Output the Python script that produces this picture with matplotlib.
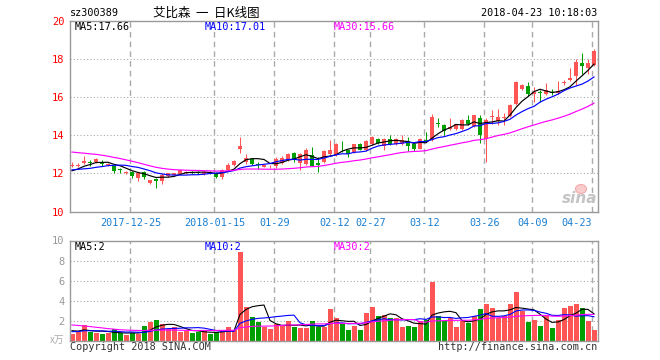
import matplotlib
matplotlib.use("Agg")
import matplotlib.pyplot as plt
import pandas as pd
from matplotlib.patches import Ellipse

# daily candles, 2017-12-11 .. 2018-04-23 (88 trading days)
open_ = [12.42, 12.40, 12.55, 12.58, 12.58, 12.55, 12.45, 12.37, 12.22, 12.02,
         12.07, 11.77, 12.10, 11.49, 11.72, 11.58, 11.85, 11.90, 11.98, 12.00,
         12.10, 12.07, 11.96, 12.10, 12.05, 11.82, 12.20, 12.45, 13.30, 12.60,
         12.76, 12.50, 12.35, 12.37, 12.38, 12.56, 12.70, 13.08, 12.56, 12.52,
         12.96, 12.55, 12.60, 13.00, 12.96, 13.42, 13.21, 13.12, 13.53, 13.21,
         13.53, 13.84, 13.47, 13.79, 13.53, 13.53, 13.70, 13.57, 13.31, 13.78,
         13.77, 14.68, 14.53, 14.35, 14.35, 14.32, 14.84, 14.49, 14.90, 13.84,
         14.95, 14.77, 14.94, 15.02, 15.65, 16.42, 16.60, 16.20, 16.27, 16.17,
         16.30, 16.25, 16.78, 16.90, 17.12, 17.82, 17.53, 17.70]
high = [12.58, 12.55, 12.90, 12.70, 12.80, 12.72, 12.55, 12.40, 12.30, 12.12,
        12.15, 12.05, 12.15, 11.68, 11.75, 12.00, 12.05, 12.05, 12.20, 12.15,
        12.15, 12.12, 12.12, 12.15, 12.10, 12.25, 12.55, 12.72, 13.92, 13.05,
        12.80, 12.60, 12.48, 12.47, 12.88, 12.90, 13.10, 13.15, 13.10, 13.35,
        13.40, 12.88, 13.25, 13.78, 13.62, 13.72, 13.25, 13.56, 13.58, 13.75,
        13.98, 13.88, 13.85, 14.00, 13.88, 14.00, 13.90, 13.60, 13.88, 14.16,
        15.14, 14.90, 14.60, 14.90, 14.62, 14.88, 15.07, 15.10, 15.07, 14.90,
        15.33, 15.37, 15.16, 15.65, 16.85, 16.70, 16.82, 16.55, 16.41, 16.77,
        16.46, 16.86, 16.91, 17.53, 18.05, 18.35, 18.05, 18.57]
low = [12.32, 12.36, 12.50, 12.42, 12.55, 12.37, 12.42, 12.05, 12.00, 11.98,
       11.75, 11.60, 11.70, 11.45, 11.23, 11.45, 11.80, 11.85, 11.95, 11.95,
       11.98, 11.98, 11.92, 11.97, 11.75, 11.72, 12.15, 12.40, 13.08, 12.50,
       12.45, 12.26, 12.32, 12.30, 12.27, 12.50, 12.68, 12.60, 12.20, 12.45,
       12.38, 12.07, 12.55, 12.95, 12.93, 13.14, 12.88, 13.08, 13.22, 13.17,
       13.50, 13.55, 13.25, 13.50, 13.50, 13.50, 13.20, 13.20, 13.28, 13.68,
       13.72, 14.45, 14.00, 14.30, 14.30, 14.28, 14.55, 14.45, 13.61, 12.61,
       14.60, 14.54, 14.54, 14.98, 15.60, 16.38, 16.10, 15.76, 15.76, 16.12,
       16.12, 16.20, 16.65, 16.85, 16.65, 17.26, 17.26, 17.65]
close = [12.47, 12.47, 12.66, 12.55, 12.74, 12.50, 12.50, 12.12, 12.18, 12.10,
         11.85, 12.02, 11.80, 11.65, 11.63, 11.93, 12.02, 12.00, 12.16, 12.10,
         12.02, 12.04, 12.07, 12.03, 11.80, 12.20, 12.47, 12.65, 13.47, 12.82,
         12.49, 12.47, 12.44, 12.42, 12.74, 12.84, 13.05, 12.73, 13.05, 13.26,
         12.42, 12.45, 13.20, 13.26, 13.57, 13.38, 13.00, 13.53, 13.26, 13.70,
         13.93, 13.60, 13.79, 13.57, 13.84, 13.74, 13.47, 13.31, 13.84, 13.72,
         14.96, 14.63, 14.26, 14.47, 14.58, 14.84, 14.63, 15.07, 14.02, 14.84,
         15.00, 14.95, 14.98, 15.60, 16.82, 16.65, 16.17, 16.30, 16.22, 16.38,
         16.26, 16.35, 16.82, 17.00, 17.87, 17.65, 17.80, 18.45]
volume = [0.67, 0.90, 1.57, 0.90, 0.73, 0.67, 0.73, 1.13, 0.73, 0.57,
          0.73, 0.67, 1.47, 1.87, 2.07, 1.63, 1.13, 1.40, 0.90, 0.97,
          0.73, 0.90, 0.97, 0.67, 0.87, 0.97, 1.33, 1.07, 8.87, 3.33,
          2.33, 1.87, 1.40, 1.17, 1.67, 1.53, 2.00, 1.33, 1.27, 1.27,
          1.97, 1.40, 1.40, 3.17, 2.30, 1.70, 1.07, 1.47, 1.07, 2.77,
          3.37, 2.47, 2.57, 2.23, 2.30, 1.37, 1.47, 1.37, 2.00, 2.07,
          5.87, 2.47, 1.97, 2.30, 1.37, 1.97, 1.80, 2.47, 3.17, 3.67,
          3.27, 2.30, 2.47, 3.67, 4.87, 2.93, 1.87, 2.07, 1.47, 2.47,
          1.27, 2.07, 3.27, 3.43, 3.67, 3.27, 1.97, 1.07]

# the 29 sessions before the window, estimated from where the MA lines start
prev_close = [13.4, 13.5, 13.6, 13.5, 13.9, 14.0, 14.1, 13.9, 14.2, 14.0,
              14.3, 14.4, 14.1, 13.9, 13.6, 13.2, 12.9, 12.6, 12.5, 12.3,
              12.2, 12.4, 12.3, 12.2, 12.1, 12.0, 11.95, 12.1, 12.2]
prev_volume = [2.4, 3.1, 2.6, 2.9, 2.5, 3.0, 2.6, 2.5, 1.6, 1.4,
               1.2, 1.5, 1.3, 1.7, 1.4, 1.2, 1.3, 1.5, 1.2, 1.2,
               0.8, 0.7, 0.9, 0.8, 0.8, 1.1, 1.0, 1.2, 1.03]

tick_idx = [10, 24, 34, 44, 50, 59, 69, 77, 87]
tick_labels = ["2017-12-25", "2018-01-15", "01-29", "02-12", "02-27",
               "03-12", "03-26", "04-09", "04-23"]

RED = "#ff5555"
GREEN = "#009f00"
GRID = "#aaaaaa"
W, H = 660, 360

plt.rcParams["font.family"] = ["DejaVu Sans Mono", "Noto Sans CJK SC"]


def moving_avg(prev, vals, n):
    s = pd.Series(prev + vals)
    return s.rolling(n).mean().iloc[len(prev):].to_numpy()


def px_axes(fig, x0, y0, x1, y1):
    return fig.add_axes([x0 / W, 1 - y1 / H, (x1 - x0) / W, (y1 - y0) / H])


def style_panel(ax, ylim, yticks, hgrid, label_color):
    ax.set_xlim(-0.333, 87.67)
    ax.set_ylim(*ylim)
    for sp in ax.spines.values():
        sp.set_color("#999999")
        sp.set_linewidth(1.0)
    for g in hgrid:
        ax.axhline(g, color=GRID, linestyle=(0, (1, 2)), linewidth=0.8, zorder=0)
    for t in tick_idx:
        ax.axvline(t - 0.28, color=GRID, linestyle=(0, (4, 3)), linewidth=1.0, zorder=0)
    ax.set_yticks(yticks)
    ax.set_yticklabels([str(v) for v in yticks])
    ax.tick_params(axis="y", length=0, pad=4, labelsize=7.5, labelcolor=label_color)


def main() -> None:
    x = list(range(len(close)))
    colors = [RED if c >= o else GREEN for o, c in zip(open_, close)]

    fig = plt.figure(figsize=(W / 100, H / 100), dpi=100)
    fig.patch.set_facecolor("white")

    # price panel
    ax = px_axes(fig, 70, 20.5, 598, 211.5)
    style_panel(ax, (10, 20.05), [10, 12, 14, 16, 18, 20], [12, 14, 16, 18], "#ff0000")
    ax.vlines(x, low, high, colors=colors, linewidth=0.75, zorder=2)
    body_bottom = [min(o, c) for o, c in zip(open_, close)]
    body_height = [max(abs(c - o), 0.03) for o, c in zip(open_, close)]
    ax.bar(x, body_height, bottom=body_bottom, width=0.68, color=colors,
           linewidth=0, zorder=3)
    ax.plot(x, moving_avg(prev_close, close, 5), color="black", linewidth=0.85, zorder=4)
    ax.plot(x, moving_avg(prev_close, close, 10), color="#0000ff", linewidth=0.85, zorder=4)
    ax.plot(x, moving_avg(prev_close, close, 30), color="#ff00ff", linewidth=0.85, zorder=4)
    ax.set_xticks([t - 0.28 for t in tick_idx])
    ax.set_xticklabels(tick_labels)
    ax.tick_params(axis="x", length=0, pad=4.5, labelsize=7.3, labelcolor="#1a7fd0")
    ax.get_xticklabels()[-1].set_horizontalalignment("right")

    # volume panel
    vx = px_axes(fig, 70, 240.5, 598, 340.7)
    style_panel(vx, (0, 10), [2, 4, 6, 8, 10], [2, 4, 6, 8], "#999999")
    vx.bar([i + 0.08 for i in x], volume, width=0.84, color=colors, linewidth=0, zorder=2)
    vx.plot(x, moving_avg(prev_volume, volume, 5), color="black", linewidth=0.8, zorder=4)
    vx.plot(x, moving_avg(prev_volume, volume, 10), color="#0000ff", linewidth=0.8, zorder=4)
    vx.plot(x, moving_avg(prev_volume, volume, 30), color="#ff00ff", linewidth=0.8, zorder=4)
    vx.set_xticks([])

    def ftext(px, py, s, **kw):
        fig.text(px / W, 1 - py / H, s, va="center", **kw)

    ftext(70, 13, "sz300389", fontsize=7.3, color="black")
    ftext(206, 13, "艾比森  一  日K线图", fontsize=9, color="black", ha="center",
          family=["Noto Sans CJK SC", "DejaVu Sans"])
    ftext(597, 13, "2018-04-23 10:18:03", fontsize=7.3, color="black", ha="right")

    ftext(75, 26.5, "MA5:17.66", fontsize=7.3, color="black")
    ftext(205, 26.5, "MA10:17.01", fontsize=7.3, color="#0000ff")
    ftext(334, 26.5, "MA30:15.66", fontsize=7.3, color="#ff00ff")
    ftext(75, 246.5, "MA5:2", fontsize=7.3, color="black")
    ftext(205, 246.5, "MA10:2", fontsize=7.3, color="#0000ff")
    ftext(334, 246.5, "MA30:2", fontsize=7.3, color="#ff00ff")

    ftext(64, 340, "x万", fontsize=7, color="#aaaaaa", ha="right",
          family=["Noto Sans CJK SC", "DejaVu Sans"])
    ftext(70, 347, "Copyright 2018 SINA.COM", fontsize=7.3, color="#333333")
    ftext(597, 347, "http://finance.sina.com.cn", fontsize=7.3, color="#333333", ha="right")

    # faint sina watermark: pale red eye above the word
    fig.add_artist(Ellipse((581 / W, 1 - 189 / H), 11 / W, 9 / H,
                           transform=fig.transFigure, facecolor="#f9cccc",
                           edgecolor="#f4aaaa", linewidth=0.8, zorder=1))
    ftext(580, 198.5, "sina", fontsize=11, color="#c4c4c4", ha="center",
          family="DejaVu Sans", fontweight="bold", style="italic", zorder=2)

    fig.savefig("out.png", dpi=100)
    plt.close(fig)


if __name__ == "__main__":
    main()
